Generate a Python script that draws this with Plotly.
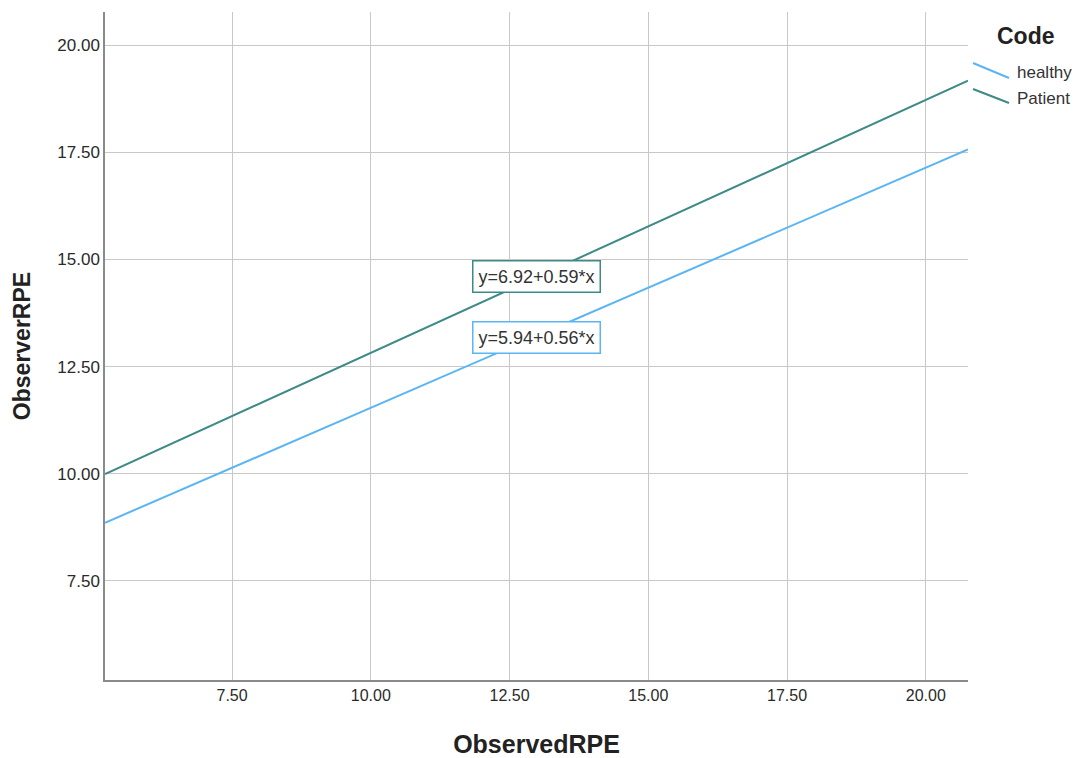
import plotly.graph_objects as go

# Data
codes = ["healthy", "Patient"]
intercepts = [5.94, 6.92]
slopes = [0.56, 0.59]
colors = ["#5BB5F2", "#3D8A86"]
x_range = [5.21, 20.76]
y_range = [5.19, 20.77]
tick_vals = [7.5, 10.0, 12.5, 15.0, 17.5, 20.0]
tick_text = ["7.50", "10.00", "12.50", "15.00", "17.50", "20.00"]
label_x = 12.99
label_y = [13.17, 14.59]

fig = go.Figure()
for code, a, b, c in zip(codes, intercepts, slopes, colors):
    xs = list(x_range)
    ys = [a + b * x for x in xs]
    fig.add_trace(go.Scatter(x=xs, y=ys, mode="lines", name=code,
                             line=dict(color=c, width=2), showlegend=False))

for code, a, b, c, ly in zip(codes, intercepts, slopes, colors, label_y):
    fig.add_annotation(x=label_x, y=ly, xref="x", yref="y",
                       text=f"y={a:.2f}+{b:.2f}*x", showarrow=False,
                       font=dict(family="Liberation Sans", size=18, color="#333"),
                       bgcolor="white", bordercolor=c, borderwidth=1.5, borderpad=5)

# Custom legend
fig.add_annotation(x=1.067, y=0.964, xref="paper", yref="paper", text="<b>Code</b>",
                   showarrow=False, xanchor="center", yanchor="middle",
                   font=dict(family="Liberation Sans", size=23, color="#222"))
leg_y0 = [0.9237, 0.8847]
leg_y1 = [0.9012, 0.8638]
leg_ty = [0.910, 0.871]
for code, c, y0, y1, ty in zip(codes, colors, leg_y0, leg_y1, leg_ty):
    fig.add_shape(type="line", xref="paper", yref="paper", x0=1.0058, x1=1.0475,
                  y0=y0, y1=y1, line=dict(color=c, width=2))
    fig.add_annotation(x=1.0545, y=ty, xref="paper", yref="paper", text=code,
                       showarrow=False, xanchor="left", yanchor="middle",
                       font=dict(family="Liberation Sans", size=17, color="#333"))

axis_common = dict(
    tickvals=tick_vals, ticktext=tick_text, showgrid=True, gridcolor="#C8C8C8",
    gridwidth=1, zeroline=False, showline=True, linecolor="#8A8A8A", linewidth=1.5,
    ticks="",
)
fig.update_xaxes(range=x_range,
                 tickfont=dict(family="Liberation Sans", size=16, color="#2a2a2a"),
                 title=dict(text="<b>ObservedRPE</b>", standoff=34,
                            font=dict(family="Liberation Sans", size=25, color="#222")),
                 **axis_common)
fig.update_yaxes(range=y_range,
                 tickfont=dict(family="Liberation Sans", size=17, color="#2a2a2a"),
                 title=dict(text="<b>ObserverRPE</b>", standoff=20,
                            font=dict(family="Liberation Sans", size=23, color="#222")),
                 **axis_common)

fig.update_layout(width=1076, height=750, plot_bgcolor="white", paper_bgcolor="white",
                  margin=dict(l=97, r=116, t=4, b=78))
fig.write_html("out.html")
